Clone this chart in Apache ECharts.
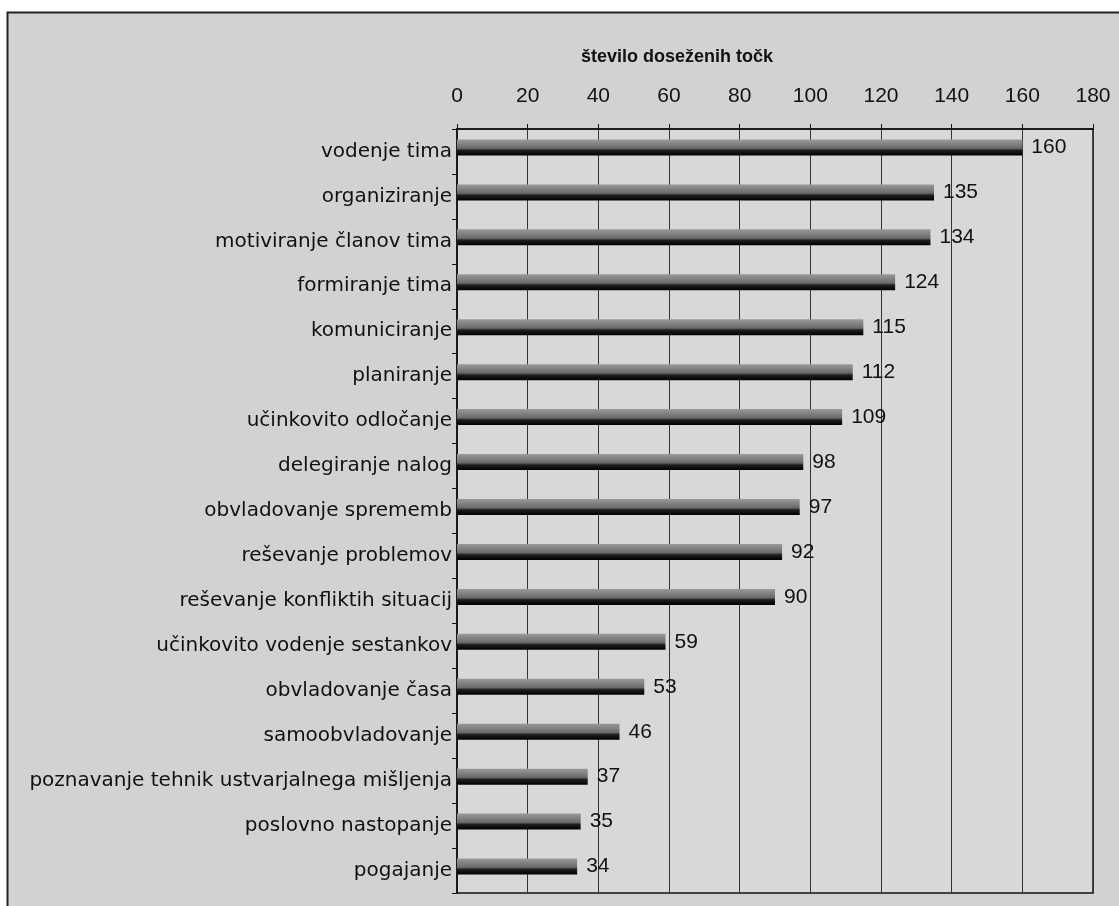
<!DOCTYPE html>
<html><head><meta charset="utf-8">
<script src="https://cdn.jsdelivr.net/npm/echarts@6/dist/echarts.min.js"></script>
<style>html,body{margin:0;padding:0;background:#fff}#c{width:1119px;height:906px}</style>
</head><body><div id="c"></div>
<script>
const categories = ["vodenje tima","organiziranje","motiviranje članov tima","formiranje tima","komuniciranje","planiranje","učinkovito odločanje","delegiranje nalog","obvladovanje sprememb","reševanje problemov","reševanje konfliktih situacij","učinkovito vodenje sestankov","obvladovanje časa","samoobvladovanje","poznavanje tehnik ustvarjalnega mišljenja","poslovno nastopanje","pogajanje"];
const values = [160,135,134,124,115,112,109,98,97,92,90,59,53,46,37,35,34];
const axisTitle = "število doseženih točk";

const chart = echarts.init(document.getElementById('c'));
chart.setOption({
  backgroundColor: '#fff',
  animation: false,
  textStyle: {fontFamily: 'Liberation Sans, Arial, sans-serif'},
  title: {
    text: axisTitle, left: 672, top: 43, textAlign: 'center',
    textStyle: {fontSize: 18, fontWeight: 'bold', color: '#111', fontFamily: 'Liberation Sans, Arial, sans-serif'}
  },
  graphic: [{
    type: 'rect', z: -10, silent: true,
    shape: {x: 7.5, y: 12.5, width: 1120, height: 900},
    style: {fill: '#d2d2d2', stroke: '#222', lineWidth: 2}
  }],
  grid: {left: 457, right: 26, top: 129, bottom: 13, show: true, backgroundColor: '#d8d8d8', borderColor: '#111', borderWidth: 1.5},
  xAxis: {
    type: 'value', position: 'top', min: 0, max: 180, interval: 20,
    axisLine: {show: true, lineStyle: {color: '#111', width: 1.5}},
    axisTick: {show: true, length: 5, lineStyle: {color: '#111'}},
    axisLabel: {fontSize: 21, color: '#111', margin: 22, verticalAlign: 'bottom', fontFamily: 'Liberation Sans, Arial, sans-serif'},
    splitLine: {show: true, lineStyle: {color: '#333', width: 1}}
  },
  yAxis: {
    type: 'category', data: categories, inverse: true,
    axisLine: {show: true, lineStyle: {color: '#111', width: 1.5}},
    axisTick: {show: true, length: 5, lineStyle: {color: '#111'}},
    axisLabel: {fontSize: 20, color: '#111', margin: 5, fontFamily: 'DejaVu Sans, sans-serif'},
    splitLine: {show: false}
  },
  series: [{
    type: 'bar', data: values, barWidth: 16, barGap: '-50%',
    itemStyle: {color: new echarts.graphic.LinearGradient(0,0,0,1,[
      {offset:0, color:'#9a9a9a'},{offset:0.55, color:'#6a6a6a'},{offset:0.68, color:'#1e1e1e'},{offset:1, color:'#000'}])},
    label: {show: true, position: 'right', distance: 9, fontSize: 21, color: '#111', fontFamily: 'Liberation Sans, Arial, sans-serif'}
  }, {
    type: 'bar', data: categories.map(() => '-'), barWidth: 16, silent: true
  }]
});
</script></body></html>
